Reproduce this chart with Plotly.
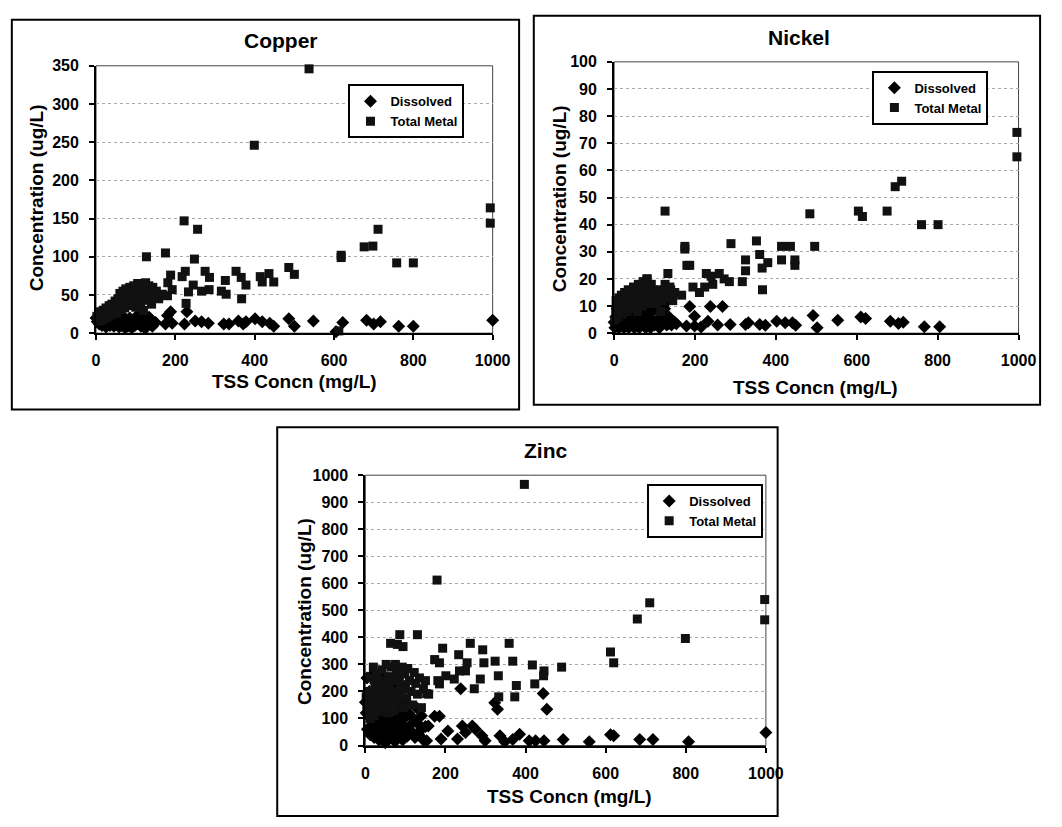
import plotly.graph_objects as go

W, H = 1062, 827
FONT = "Liberation Sans, Arial, sans-serif"


def fx(px):
    return px / W


def fy(py):
    return 1 - py / H


# ---------------- data (TSS mg/L vs concentration ug/L) ----------------
cu_diss_tss = [0, 3, 5, 8, 10, 13, 15, 18, 20, 23, 25, 28, 30, 33, 35, 38, 40, 43, 45, 48, 50, 53, 55, 58,
               60, 63, 65, 68, 70, 73, 75, 78, 80, 83, 85, 88, 90, 93, 95, 98, 100, 103, 106, 110, 113, 116,
               120, 124, 128, 132, 138, 142, 150,
               127, 134, 146, 175, 180, 188, 192, 223, 229, 250, 266, 283, 322, 335, 359, 371, 378, 401, 419,
               438, 448, 486, 500, 548, 605, 622, 682, 700, 717, 763, 800, 1000]
cu_diss_val = [20, 15, 22, 12, 18, 25, 10, 16, 20, 13, 8, 18, 14, 22, 10, 16, 12, 19, 9, 14, 17, 11, 20, 8,
               13, 16, 10, 22, 14, 7, 18, 12, 9, 15, 20, 11, 7, 16, 13, 10, 18, 12, 24, 15, 9, 20,
               13, 6, 10, 16, 12, 9, 14,
               12, 21, 13, 12, 23, 28, 13, 12, 28, 16, 15, 13, 12, 12, 16, 12, 15, 19, 15,
               13, 9, 19, 9, 16, 2, 14, 17, 12, 15, 9, 9, 17]
cu_tot_tss = [2, 4, 6, 8, 10, 12, 15, 18, 20, 22, 25, 28, 30, 33, 35, 38, 40, 42, 45, 48, 50, 52, 55, 58,
              60, 62, 65, 68, 70, 72, 75, 78, 80, 82, 85, 88, 90, 92, 95, 98, 100, 102, 105, 108, 110, 112,
              115, 118, 120, 122, 125, 128, 130, 133, 136, 140, 143, 147, 152, 158, 165,
              537, 399, 994, 994, 222, 256, 711, 676, 698, 127, 175, 248, 618, 618, 758, 800, 486, 500,
              353, 366, 378, 367, 414, 436, 419, 448, 275, 286, 266, 285, 326, 316, 328, 225, 217, 245,
              233, 227, 188, 181, 192, 180, 167, 612]
cu_tot_val = [22, 18, 25, 20, 28, 16, 22, 30, 25, 19, 33, 27, 21, 36, 30, 24, 38, 33, 28, 42, 35, 26, 45, 38,
              52, 31, 48, 55, 40, 33, 58, 50, 44, 36, 60, 53, 47, 39, 62, 57, 34, 50, 65, 44, 60, 38,
              64, 55, 30, 48, 66, 58, 43, 62, 52, 38, 60, 48, 55, 45, 50,
              346, 246, 164, 144, 147, 136, 136, 113, 114, 100, 105, 97, 102, 99, 92, 92, 86, 77,
              81, 73, 63, 45, 74, 78, 67, 67, 81, 73, 55, 57, 69, 55, 51, 81, 74, 63,
              54, 39, 76, 66, 57, 49, 51, 3]

ni_diss_tss = [0, 2, 4, 6, 8, 10, 12, 14, 16, 18, 20, 22, 24, 26, 28, 30, 32, 34, 36, 38, 40, 42, 45, 48,
               50, 52, 55, 58, 60, 62, 65, 68, 70, 72, 75, 78, 80, 82, 85, 88, 90, 93, 96, 100, 104, 108,
               112, 116, 120, 125, 130, 136, 142, 150,
               1002, 1002, 805, 767, 715, 703, 683, 610, 622, 553, 492, 502, 449, 441, 423, 402, 374, 360,
               332, 325, 287, 268, 238, 256, 232, 215, 199, 199, 187, 179, 154, 134, 126]
ni_diss_val = [4, 2, 6, 3, 9, 5, 2, 7, 4, 11, 3, 6, 2, 8, 4, 10, 3, 6, 2, 5, 8, 3, 11, 4,
               2, 7, 5, 3, 9, 2, 6, 4, 12, 3, 7, 2, 5, 9, 3, 6, 2, 8, 4, 3, 10, 5,
               2, 7, 4, 9, 3, 6, 3, 4,
               7.4, 4.4, 2.4, 2.4, 4, 3.6, 4.4, 6, 5.4, 4.8, 6.5, 2, 2.9, 3.8, 3.8, 4.4, 2.9, 3.2,
               3.8, 3.2, 3.2, 9.8, 9.8, 3, 4.4, 2.3, 2.6, 6.2, 9.8, 2.6, 3.5, 3.5, 11]
ni_tot_tss = [2, 4, 5, 8, 10, 12, 14, 16, 18, 20, 22, 24, 26, 28, 30, 32, 35, 37, 40, 42, 45, 48, 50, 52,
              55, 58, 60, 62, 65, 68, 70, 72, 75, 78, 80, 82, 85, 88, 90, 92, 95, 98, 100, 105, 108, 112,
              115, 118, 122, 128, 135, 140, 145,
              996, 996, 711, 695, 675, 604, 614, 484, 126, 760, 801, 496, 289, 352, 360, 414, 436, 414,
              447, 447, 380, 366, 367, 325, 325, 317, 175, 175, 180, 187, 133, 228, 240, 260, 272, 285,
              244, 126, 195, 211, 167, 150, 138, 224, 81]
ni_tot_val = [5, 8, 12, 10, 6, 13, 9, 11, 14, 7, 12, 9, 15, 11, 13, 8, 16, 10, 14, 12, 9, 17, 13, 11,
              15, 8, 18, 14, 12, 16, 10, 19, 14, 17, 12, 20, 15, 11, 13, 18, 16, 12, 14, 11, 16, 13,
              8, 12, 14, 15, 13, 16, 12,
              74, 65, 56, 54, 45, 45, 43, 44, 45, 40, 40, 32, 33, 34, 29, 32, 32, 27,
              27, 25, 26, 24, 16, 27, 23, 19, 32, 31, 25, 25, 22, 22, 21, 22, 20, 19,
              18, 18, 17, 15, 14, 15, 17, 17, 20]

zn_diss_tss = [0, 2, 4, 5, 8, 10, 12, 14, 16, 18, 20, 22, 24, 26, 28, 30, 32, 34, 36, 38, 40, 42, 44, 46,
               48, 50, 52, 54, 56, 58, 60, 62, 64, 66, 68, 70, 72, 74, 76, 78, 80, 82, 84, 86, 88, 90,
               93, 96, 99, 102, 105, 108, 112, 116, 120, 124, 128, 132, 136, 140, 145, 150,
               1000, 1002, 807, 718, 685, 620, 612, 559, 494, 444, 453, 446, 425, 409, 385, 368, 348,
               336, 330, 323, 299, 291, 275, 267, 242, 250, 238, 230, 206, 189, 185, 173, 157, 153, 133]
zn_diss_val = [160, 120, 250, 60, 140, 200, 40, 100, 260, 75, 170, 30, 120, 230, 55, 90, 180, 20, 140, 60,
               250, 110, 35, 195, 80, 10, 150, 50, 230, 100, 25, 170, 70, 130, 40, 210, 90, 15, 150, 55,
               120, 30, 180, 80, 45, 130, 20, 100, 60, 160, 35, 120, 75, 50, 100, 30, 140, 80, 55, 110,
               20, 70,
               48, 24, 14, 22, 22, 36, 40, 14, 22, 192, 134, 18, 18, 18, 42, 22, 14,
               36, 134, 158, 18, 36, 60, 72, 72, 48, 210, 24, 54, 24, 108, 108, 72, 18, 42]
zn_tot_tss = [2, 4, 5, 8, 10, 12, 14, 16, 18, 20, 22, 24, 26, 28, 30, 32, 35, 38, 40, 42, 45, 48, 50, 52,
              55, 58, 60, 62, 65, 68, 70, 72, 75, 78, 80, 82, 85, 88, 90, 92, 95, 98, 100, 103, 106, 110,
              114, 118, 122, 126, 130, 135, 140, 145, 150, 158,
              397, 179, 997, 997, 710, 679, 799, 612, 620, 490, 417, 423, 446, 445, 359, 368, 377, 373,
              324, 332, 333, 293, 296, 287, 262, 254, 250, 272, 233, 235, 222, 193, 185, 201, 185, 173,
              181, 130, 86, 63, 80, 94, 153]
zn_tot_val = [180, 140, 120, 200, 160, 100, 250, 130, 175, 290, 110, 220, 150, 265, 190, 125, 240, 160,
              205, 280, 140, 230, 175, 300, 120, 255, 210, 150, 290, 185, 240, 130, 300, 270, 200, 160,
              250, 225, 180, 290, 140, 265, 210, 175, 285, 240, 200, 150, 270, 230, 190, 250, 140, 210,
              240, 190,
              966, 612, 540, 465, 528, 468, 396, 346, 306, 290, 298, 228, 276, 258, 378, 312, 222, 180,
              312, 258, 180, 354, 306, 246, 378, 306, 276, 210, 336, 276, 246, 360, 306, 258, 228, 318,
              240, 410, 410, 378, 374, 366, 192]

x_ticks = [0, 200, 400, 600, 800, 1000]
cu_y_ticks = [0, 50, 100, 150, 200, 250, 300, 350]
ni_y_ticks = [0, 10, 20, 30, 40, 50, 60, 70, 80, 90, 100]
zn_y_ticks = [0, 100, 200, 300, 400, 500, 600, 700, 800, 900, 1000]

# ---------------- panel geometry (pixels) ----------------
panels = [
    dict(name="Copper", sfx="", x0=94, x1=499, yb=332, yt=59, ymax=350, yticks=cu_y_ticks,
         box=(8, 12, 526, 410), title=(283, 33), xt=(297, 381), yt_=(33, 194), leg=(411, 78),
         diss=(cu_diss_tss, cu_diss_val), tot=(cu_tot_tss, cu_tot_val)),
    dict(name="Nickel", sfx="2", x0=623, x1=1036, yb=332, yt=55, ymax=100, yticks=ni_y_ticks,
         box=(541, 8, 1058, 405), title=(812, 30), xt=(829, 387), yt_=(568, 195), leg=(946, 64),
         diss=(ni_diss_tss, ni_diss_val), tot=(ni_tot_tss, ni_tot_val)),
    dict(name="Zinc", sfx="3", x0=369, x1=778, yb=753, yt=477, ymax=1000, yticks=zn_y_ticks,
         box=(279, 428, 790, 825), title=(553, 452), xt=(577, 805), yt_=(307, 616), leg=(716, 486),
         diss=(zn_diss_tss, zn_diss_val), tot=(zn_tot_tss, zn_tot_val)),
]

fig = go.Figure()
shapes = []
annotations = []
layout = {}

for i, p in enumerate(panels):
    s = p["sfx"]
    xa, ya = "x" + s, "y" + s
    leg = "legend" + s
    fig.add_trace(go.Scatter(
        x=p["diss"][0], y=p["diss"][1], mode="markers", name="Dissolved",
        xaxis=xa, yaxis=ya, legend=leg, cliponaxis=False,
        marker=dict(symbol="diamond", size=10, color="#000000", line=dict(width=0))))
    fig.add_trace(go.Scatter(
        x=p["tot"][0], y=p["tot"][1], mode="markers", name="Total Metal",
        xaxis=xa, yaxis=ya, legend=leg, cliponaxis=False,
        marker=dict(symbol="square", size=9, color="#111111", line=dict(width=0))))

    axfont = dict(family=FONT, size=16, color="#000000", weight="bold")
    layout["xaxis" + s] = dict(
        domain=[fx(p["x0"]), fx(p["x1"])], anchor=ya, range=[0, 1000],
        tickvals=x_ticks, ticks="outside", ticklen=5, tickwidth=2, tickcolor="#000",
        showline=True, linecolor="#000", linewidth=2, showgrid=False, zeroline=False,
        tickfont=axfont, ticklabelstandoff=7)
    layout["yaxis" + s] = dict(
        domain=[fy(p["yb"]), fy(p["yt"])], anchor=xa, range=[0, p["ymax"]],
        tickvals=p["yticks"], ticks="outside", ticklen=5, tickwidth=2, tickcolor="#000",
        showline=True, linecolor="#000", linewidth=2, showgrid=True,
        gridcolor="#a8a8a8", griddash="dot", gridwidth=1, zeroline=False,
        tickfont=axfont, ticklabelstandoff=7)

    shapes.append(dict(type="rect", xref=xa + " domain", yref=ya + " domain", x0=0, x1=1, y0=0, y1=1,
                       line=dict(color="#444", width=1), layer="below"))
    bx0, by0, bx1, by1 = p["box"]
    shapes.append(dict(type="rect", xref="paper", yref="paper", x0=fx(bx0), x1=fx(bx1),
                       y0=fy(by1), y1=fy(by0), line=dict(color="#000", width=2)))

    annotations.append(dict(text=p["name"], x=fx(p["title"][0]), y=fy(p["title"][1]), xref="paper",
                            yref="paper", showarrow=False, xanchor="center", yanchor="middle",
                            font=dict(family=FONT, size=21, color="#000", weight="bold")))
    annotations.append(dict(text="TSS Concn (mg/L)", x=fx(p["xt"][0]), y=fy(p["xt"][1]), xref="paper",
                            yref="paper", showarrow=False, xanchor="center", yanchor="middle",
                            font=dict(family=FONT, size=19, color="#000", weight="bold")))
    annotations.append(dict(text="Concentration (ug/L)", x=fx(p["yt_"][0]), y=fy(p["yt_"][1]),
                            xref="paper", yref="paper", showarrow=False, textangle=-90,
                            xanchor="center", yanchor="middle",
                            font=dict(family=FONT, size=19, color="#000", weight="bold")))

    layout[leg] = dict(x=fx(p["leg"][0]), y=fy(p["leg"][1]), xanchor="center", yanchor="top",
                       xref="paper", yref="paper", bgcolor="#ffffff", bordercolor="#000",
                       borderwidth=2, tracegroupgap=0, itemwidth=30,
                       font=dict(family=FONT, size=13, color="#000", weight="bold"))

fig.update_layout(
    width=W, height=H, margin=dict(l=0, r=0, t=0, b=0),
    paper_bgcolor="#ffffff", plot_bgcolor="#ffffff", showlegend=True,
    shapes=shapes, annotations=annotations, **layout)

fig.write_html("out.html")
